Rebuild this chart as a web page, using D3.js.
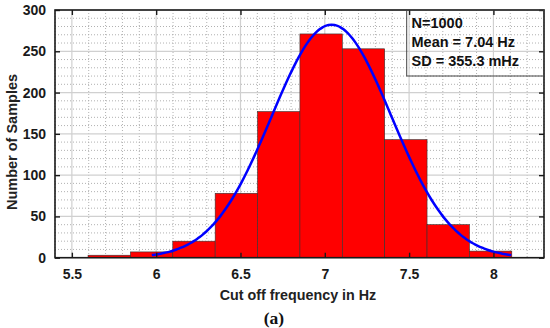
<!DOCTYPE html>
<html><head><meta charset="utf-8">
<script src="https://cdn.jsdelivr.net/npm/d3@7"></script>
<style>
html,body{margin:0;padding:0;background:#fff;}
svg{display:block;font-family:Arial,"Liberation Sans",sans-serif;}
</style></head>
<body><svg id="c" width="550" height="328"></svg>
<script>
// ---- data ----
const binStart = 5.596;      // left edge of first bin (Hz)
const binWidth = 0.2513;     // bin width (Hz)
const counts = [3, 7, 20, 78, 177, 271, 253, 143, 40, 8];
const xTicks = [5.5, 6, 6.5, 7, 7.5, 8];
const yTicks = [0, 50, 100, 150, 200, 250, 300];
const nSamples = 1000;
const meanHz = 7.04;
const sdHz = 0.3553;
const infoLines = ["N=1000", "Mean = 7.04 Hz", "SD = 355.3 mHz"];

// ---- layout ----
const svg = d3.select("#c");
const L = 55, T = 10, R = 544, B = 257.7;
const x = d3.scaleLinear().domain([5.4, 8.3]).range([L, R]);
const y = d3.scaleLinear().domain([0, 300]).range([B, T]);

// minor grid (dotted)
const g = svg.append("g");
const minorX = d3.range(5.4, 8.30001, 0.1).map(v => +v.toFixed(2)).filter(v => !xTicks.includes(v));
const minorY = d3.range(0, 301, 10).filter(v => v % 50 !== 0);
g.selectAll(".mx").data(minorX).join("line")
  .attr("x1", d => x(d)).attr("x2", d => x(d)).attr("y1", T).attr("y2", B)
  .attr("stroke", "#a8a8a8").attr("stroke-width", 0.9).attr("stroke-dasharray", "1,2");
g.selectAll(".my").data(minorY).join("line")
  .attr("x1", L).attr("x2", R).attr("y1", d => y(d)).attr("y2", d => y(d))
  .attr("stroke", "#a8a8a8").attr("stroke-width", 0.9).attr("stroke-dasharray", "1,2");
// major grid (solid light)
g.selectAll(".Mx").data(xTicks).join("line")
  .attr("x1", d => x(d)).attr("x2", d => x(d)).attr("y1", T).attr("y2", B)
  .attr("stroke", "#d0d0d0").attr("stroke-width", 1.2);
g.selectAll(".My").data(yTicks).join("line")
  .attr("x1", L).attr("x2", R).attr("y1", d => y(d)).attr("y2", d => y(d))
  .attr("stroke", "#d0d0d0").attr("stroke-width", 1.2);

// bars
svg.append("g").selectAll("rect").data(counts).join("rect")
  .attr("x", (d, i) => x(binStart + i * binWidth))
  .attr("width", (d, i) => x(binStart + (i + 1) * binWidth) - x(binStart + i * binWidth))
  .attr("y", d => y(d))
  .attr("height", d => B - y(d))
  .attr("fill", "#ff0000").attr("stroke", "#333").attr("stroke-width", 0.6);

// fitted normal curve (mean ± 3 SD, scaled to counts)
const scale = nSamples * binWidth / (sdHz * Math.sqrt(2 * Math.PI));
const curvePts = d3.range(-3, 3.0001, 0.05).map(z => [meanHz + z * sdHz, scale * Math.exp(-0.5 * z * z)]);
svg.append("path").datum(curvePts)
  .attr("d", d3.line().x(d => x(d[0])).y(d => y(d[1])).curve(d3.curveMonotoneX))
  .attr("fill", "none").attr("stroke", "#0000ff").attr("stroke-width", 2.5);

// axes
const tl = 5;
const ax = svg.append("g");
ax.append("g").attr("transform", `translate(0,${B})`)
  .call(d3.axisBottom(x).tickValues(xTicks).tickSize(-tl).tickPadding(11).tickFormat(d3.format("~g")));
ax.append("g").attr("transform", `translate(0,${T})`)
  .call(d3.axisTop(x).tickValues(xTicks).tickSize(-tl).tickFormat(""));
ax.append("g").attr("transform", `translate(${L},0)`)
  .call(d3.axisLeft(y).tickValues(yTicks).tickSize(-tl).tickPadding(9));
ax.append("g").attr("transform", `translate(${R},0)`)
  .call(d3.axisRight(y).tickValues(yTicks).tickSize(-tl).tickFormat(""));
ax.selectAll(".tick line").attr("stroke", "#1a1a1a").attr("stroke-width", 1.4);
ax.selectAll(".tick text").attr("font-size", 14).attr("font-weight", "bold")
  .attr("fill", "#1a1a1a").attr("font-family", "Arial, 'Liberation Sans', sans-serif");
ax.selectAll("path.domain").attr("d", null);
svg.append("rect").attr("x", L).attr("y", T).attr("width", R - L).attr("height", B - T)
  .attr("fill", "none").attr("stroke", "#1a1a1a").attr("stroke-width", 1.6);

// info box
svg.append("rect").attr("x", 406.7).attr("y", T).attr("width", R - 406.7).attr("height", 66)
  .attr("fill", "none").attr("stroke", "#444").attr("stroke-width", 1);
svg.append("g").selectAll("text").data(infoLines).join("text")
  .attr("x", 411.5).attr("y", (d, i) => 28.3 + i * 18.7)
  .attr("font-size", 14.5).attr("font-weight", "bold").attr("fill", "#111")
  .text(d => d);

// labels
svg.append("text").attr("transform", "translate(17,142) rotate(-90)")
  .attr("text-anchor", "middle").attr("font-size", 14.5).attr("font-weight", "bold").attr("fill", "#222")
  .text("Number of Samples");
svg.append("text").attr("x", 298).attr("y", 300)
  .attr("text-anchor", "middle").attr("font-size", 14.3).attr("font-weight", "bold").attr("fill", "#222")
  .text("Cut off frequency in Hz");
svg.append("text").attr("x", 274).attr("y", 323.5)
  .attr("text-anchor", "middle").attr("font-size", 17.5).attr("font-weight", "bold").attr("fill", "#111")
  .attr("font-family", "'Liberation Serif','DejaVu Serif',serif")
  .text("(a)");
</script></body></html>
